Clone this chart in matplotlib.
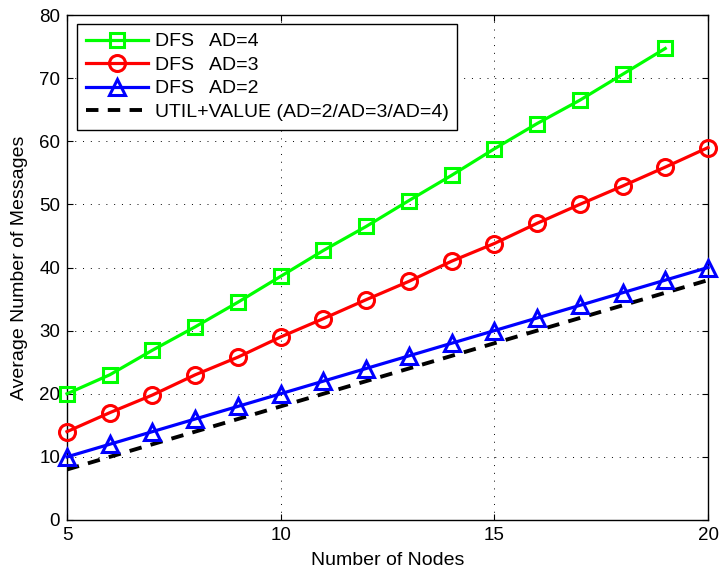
import matplotlib
matplotlib.use("Agg")
import matplotlib.pyplot as plt

plt.rcParams['font.family'] = ['Liberation Sans', 'DejaVu Sans']

nodes = list(range(5, 21))
dfs_ad4 = [20, 23, 26.9, 30.6, 34.5, 38.6, 42.7, 46.5, 50.6, 54.6, 58.8, 62.8, 66.5, 70.6, 74.7]
dfs_ad3 = [14, 17, 19.8, 23, 25.8, 29, 31.9, 34.9, 37.8, 41, 43.8, 47, 50, 52.9, 55.9, 59]
dfs_ad2 = [10, 12, 14, 16, 18, 20, 22, 24, 26, 28, 30, 32, 34, 36, 38, 40]
util_value = [8, 10, 12, 14, 16, 18, 20, 22, 24, 26, 28, 30, 32, 34, 36, 38]

fig = plt.figure(figsize=(7.21, 5.75), dpi=100)
ax = fig.add_axes([67/721, 55/575, 641/721, 505/575])

ax.plot(nodes[:len(dfs_ad4)], dfs_ad4, color='#00ff00', lw=2.3, marker='s', ms=9.5,
        mfc='none', mew=2.2, label='DFS   AD=4', clip_on=False, zorder=4)
ax.plot(nodes, dfs_ad3, color='#ff0000', lw=2.3, marker='o', ms=11.5,
        mfc='none', mew=2.2, label='DFS   AD=3', clip_on=False, zorder=4)
ax.plot(nodes, dfs_ad2, color='#0000ff', lw=2.3, marker='^', ms=12,
        mfc='none', mew=2.2, label='DFS   AD=2', clip_on=False, zorder=4)
ax.plot(nodes, util_value, color='black', lw=2.8, ls=(0, (3.2, 2.4)),
        label='UTIL+VALUE (AD=2/AD=3/AD=4)', zorder=3)

ax.set_xlim(5, 20)
ax.set_ylim(0, 80)
ax.set_xticks([5, 10, 15, 20])
ax.set_yticks(range(0, 81, 10))
ax.tick_params(direction='in', labelsize=13.5, length=4, top=True, right=True, pad=5)
ax.grid(True, color='black', ls=(0, (1, 7)), lw=0.7)
for s in ax.spines.values():
    s.set_linewidth(1)
ax.set_xlabel('Number of Nodes', fontsize=14, labelpad=6)
ax.set_ylabel('Average Number of Messages', fontsize=14, labelpad=8)

leg = ax.legend(loc='upper left', fontsize=14, frameon=True, fancybox=False,
                edgecolor='black', framealpha=1, handlelength=3.2, handletextpad=0.35,
                borderpad=0.45, labelspacing=0.3, borderaxespad=0,
                bbox_to_anchor=(0.0156, 0.982))
leg.get_frame().set_linewidth(1)

fig.savefig('out.png', dpi=100)
